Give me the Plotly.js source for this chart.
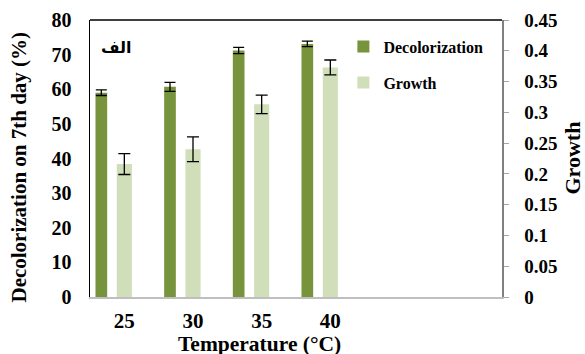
<!DOCTYPE html>
<html>
<head>
<meta charset="utf-8">
<script src="https://cdn.plot.ly/plotly-3.0.1.min.js"></script>
<style>html,body{margin:0;padding:0;background:#fff;}#chart{width:585px;height:354px;}</style>
</head>
<body>
<div id="chart"></div>
<script>
// Data
const categories = ['25', '30', '35', '40'];
const decolorization = [59.0, 60.7, 71.2, 73.1];
const decolorizationErr = [0.8, 1.3, 0.9, 0.8];
const growth = [0.216, 0.240, 0.313, 0.373];
const growthErr = [0.017, 0.020, 0.015, 0.012];
const panelLabel = 'الف';

const positions = categories.map((c, i) => i);
const FONT = 'Liberation Serif';

const traces = [
  {
    type: 'bar', name: 'Decolorization', x: positions, y: decolorization,
    yaxis: 'y', width: 0.17, offset: -0.42,
    marker: {color: '#77933C'},
    error_y: {type: 'data', array: decolorizationErr, visible: true, color: '#000', thickness: 1.3, width: 5.5},
    legendgroup: 'a'
  },
  {
    type: 'bar', name: 'Growth', x: positions, y: growth,
    yaxis: 'y2', width: 0.22, offset: -0.11,
    marker: {color: '#D0DEBA'},
    error_y: {type: 'data', array: growthErr, visible: true, color: '#000', thickness: 1.3, width: 6},
    legendgroup: 'b'
  }
];

const layout = {
  width: 585, height: 354,
  margin: {l: 90, r: 83, t: 20, b: 57, pad: 0},
  paper_bgcolor: '#fff', plot_bgcolor: '#fff',
  font: {family: FONT, color: '#000', size: 20, weight: 'bold'},
  barmode: 'overlay',
  showlegend: true,
  legend: {
    x: 0.615, y: 0.965, xanchor: 'left', yanchor: 'top',
    font: {family: FONT, size: 16, weight: 'bold', color: '#000'},
    tracegroupgap: 12, bgcolor: 'rgba(0,0,0,0)', traceorder: 'grouped'
  },
  xaxis: {
    type: 'linear', range: [-0.5, 5.5],
    tickvals: positions, ticktext: categories,
    showgrid: false, zeroline: false, showline: true, linecolor: '#BFBFBF', linewidth: 1.5,
    ticks: '', ticklabelstandoff: 4,
    tickfont: {family: FONT, size: 21, weight: 'bold', color: '#000'}
  },
  yaxis: {
    range: [0, 80], dtick: 10, tick0: 0,
    showgrid: false, zeroline: false, showline: true, linecolor: '#000', linewidth: 1.5,
    ticks: '', ticklabelstandoff: 13,
    tickfont: {family: FONT, size: 20, weight: 'bold', color: '#000'}
  },
  yaxis2: {
    overlaying: 'y', side: 'right', range: [0, 0.45], dtick: 0.05, tick0: 0,
    showgrid: false, zeroline: false, showline: true, linecolor: '#808080', linewidth: 1.5,
    ticks: 'outside', ticklen: 5, tickcolor: '#A6A6A6', tickwidth: 1, ticklabelstandoff: 12,
    tickfont: {family: FONT, size: 19, weight: 'bold', color: '#000'}
  },
  shapes: [
    {type: 'line', xref: 'paper', yref: 'paper', x0: 0, x1: 1, y0: 1, y1: 1, line: {color: '#000', width: 1.5}}
  ],
  annotations: [
    {text: 'Temperature (°C)', xref: 'paper', yref: 'paper', x: 0.212, y: -0.124, xanchor: 'left', yanchor: 'top',
     borderpad: 0, showarrow: false, font: {family: FONT, size: 21.5, weight: 'bold', color: '#000'}},
    {text: 'Decolorization on 7th day (%)', xref: 'paper', yref: 'paper', x: -0.173, y: 0.47, xanchor: 'center', yanchor: 'middle',
     textangle: -90, showarrow: false, font: {family: FONT, size: 21, weight: 'bold', color: '#000'}},
    {text: 'Growth', xref: 'paper', yref: 'paper', x: 1.17, y: 0.5, xanchor: 'center', yanchor: 'middle',
     textangle: -90, showarrow: false, font: {family: FONT, size: 22, weight: 'bold', color: '#000'}},
    {text: panelLabel, xref: 'paper', yref: 'paper', x: 0.065, y: 0.9, xanchor: 'center', yanchor: 'middle',
     showarrow: false, font: {family: 'DejaVu Sans', size: 16, weight: 'bold', color: '#000'}}
  ]
};

Plotly.newPlot('chart', traces, layout, {displayModeBar: false, staticPlot: true});
</script>
</body>
</html>
